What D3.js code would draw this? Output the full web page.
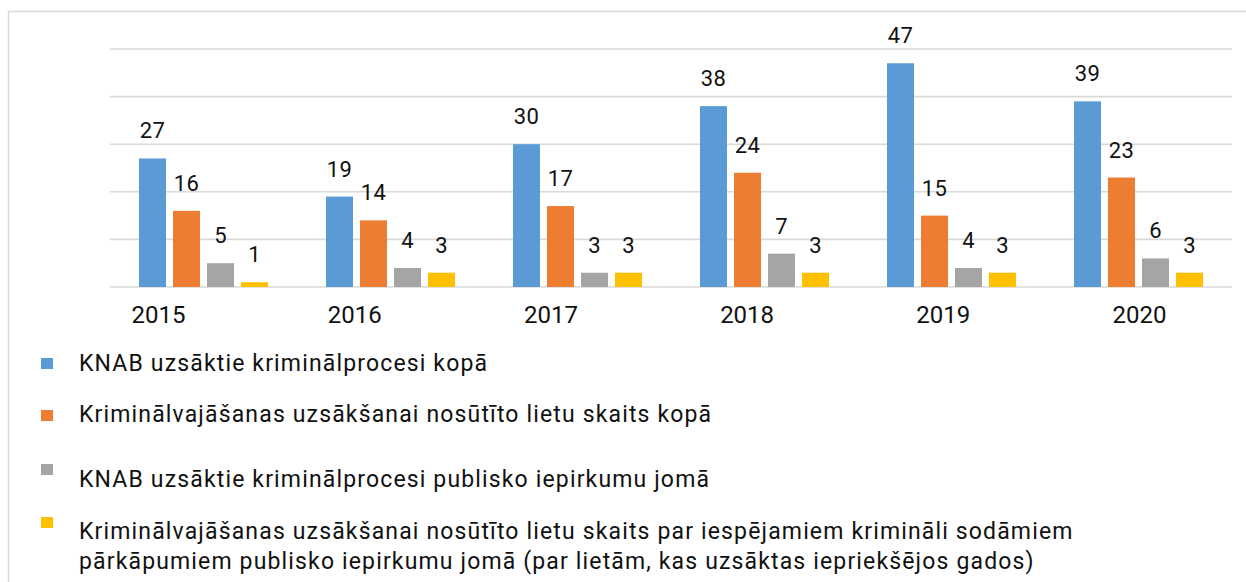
<!DOCTYPE html>
<html><head><meta charset="utf-8">
<script src="https://cdn.jsdelivr.net/npm/d3@7"></script>
<style>body{margin:0;background:#fff}text{font-family:Roboto,"Liberation Sans",sans-serif;fill:#111}</style>
</head><body><svg id="chart" width="1246" height="582"></svg>
<script>
const years = ["2015","2016","2017","2018","2019","2020"];
const legendLines = [
  ["KNAB uzsāktie kriminālprocesi kopā"],
  ["Kriminālvajāšanas uzsākšanai nosūtīto lietu skaits kopā"],
  ["KNAB uzsāktie kriminālprocesi publisko iepirkumu jomā"],
  ["Kriminālvajāšanas uzsākšanai nosūtīto lietu skaits par iespējamiem krimināli sodāmiem",
   "pārkāpumiem publisko iepirkumu jomā (par lietām, kas uzsāktas iepriekšējos gados)"]
];
const totalCases = [27, 19, 30, 38, 47, 39];
const sentTotal = [16, 14, 17, 24, 15, 23];
const procurementCases = [5, 4, 3, 7, 4, 6];
const procurementSent = [1, 3, 3, 3, 3, 3];
const gridTicks = [0, 10, 20, 30, 40, 50];
const colors = ["#5b9bd5", "#ed7d31", "#a5a5a5", "#ffc000"];

const seriesValues = [totalCases, sentTotal, procurementCases, procurementSent];
const svg = d3.select("#chart");

// outer frame
svg.append("rect").attr("x", 8.5).attr("y", 11.5).attr("width", 1250).attr("height", 600)
  .attr("fill", "none").attr("stroke", "#d9d9d9").attr("stroke-width", 1.5);

const x0 = d3.scaleBand().domain(years).range([110, 1232]).padding(0);
const x1 = d3.scaleBand().domain(d3.range(4)).range([29, 158]).paddingInner(0.206).paddingOuter(0);
const xLabel = d3.scalePoint().domain(years).range([158, 1139]);
const y = d3.scaleLinear().domain([0, 50]).range([287, 49]);

// gridlines
svg.append("g").selectAll("line").data(gridTicks).join("line")
  .attr("x1", 110).attr("x2", 1232)
  .attr("y1", d => y(d)).attr("y2", d => y(d))
  .attr("stroke", "#d9d9d9").attr("stroke-width", 1.6);

const rows = years.map((yr, i) => ({year: yr, vals: seriesValues.map(s => s[i])}));
const g = svg.append("g").selectAll("g").data(rows).join("g")
  .attr("transform", d => `translate(${x0(d.year)},0)`);

g.selectAll("rect").data(d => d.vals.map((v, k) => ({v, k}))).join("rect")
  .attr("x", d => x1(d.k)).attr("width", x1.bandwidth())
  .attr("y", d => y(d.v)).attr("height", d => y(0) - y(d.v))
  .attr("fill", d => colors[d.k]);

g.selectAll("text.val").data(d => d.vals.map((v, k) => ({v, k}))).join("text")
  .attr("class", "val")
  .attr("x", d => x1(d.k) + x1.bandwidth() / 2)
  .attr("y", d => y(d.v) - 20)
  .attr("text-anchor", "middle").style("font-size", "22px").style("letter-spacing", "0.3px")
  .text(d => d.v);

// x axis labels
const xAxis = d3.axisBottom(xLabel).tickSize(0).tickPadding(0);
const ax = svg.append("g").attr("transform", "translate(0,287)").call(xAxis);
ax.select(".domain").remove();
ax.selectAll("text").attr("dy", null).attr("y", 36)
  .style("font-size", "24px").style("font-family", "Roboto").style("fill", "#111");

// legend
const leg = svg.append("g").selectAll("g").data(legendLines).join("g")
  .attr("transform", (d, i) => `translate(0,${[371, 422, 487, 539][i]})`);
leg.append("rect").attr("x", 41).attr("y", (d, i) => [-13, -12, -23, -22][i])
  .attr("width", 12).attr("height", 11).attr("fill", (d, i) => colors[i]);
leg.append("text").attr("x", 79).style("font-size", "23px").style("letter-spacing", "1.15px")
  .selectAll("tspan").data(d => d).join("tspan")
  .attr("x", 79).attr("dy", (d, j) => j === 0 ? 0 : 30).text(d => d);
</script></body></html>
